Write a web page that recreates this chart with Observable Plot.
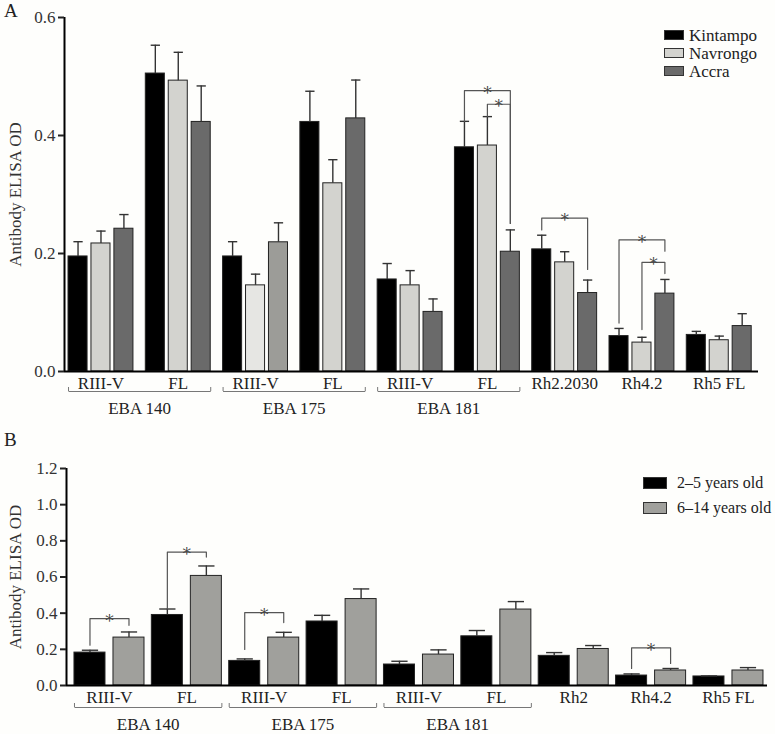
<!DOCTYPE html>
<html><head><meta charset="utf-8">
<script src="https://cdn.jsdelivr.net/npm/d3@7"></script>
<script src="https://cdn.jsdelivr.net/npm/@observablehq/plot@0.6"></script>
<style>
body{margin:0;background:#fefefc;font-family:"Liberation Serif",serif;color:#222}
#wrap{position:relative;width:775px;height:734px;overflow:hidden}
.panel{position:absolute;left:0}
.letter{position:absolute;left:4px;font-size:19px;line-height:1}
.legend{position:absolute;line-height:1;white-space:nowrap}
.legend .row{display:flex;align-items:center}
.legend .sw{display:inline-block;box-sizing:border-box;border:1px solid #333}
</style></head><body><div id="wrap"></div>
<script>
// ---------- data ----------
const groupLabelsA = ["RIII-V","FL","RIII-V","FL","RIII-V","FL","Rh2.2030","Rh4.2","Rh5 FL"];
const groupLabelsB = ["RIII-V","FL","RIII-V","FL","RIII-V","FL","Rh2","Rh4.2","Rh5 FL"];
const familyNames = ["EBA 140","EBA 175","EBA 181"];
const familyFirst = [0,2,4];
const familyLast  = [1,3,5];

const sitesA = ["Kintampo","Navrongo","Accra"];
const kintampo    = [0.195,0.505,0.195,0.423,0.156,0.380,0.207,0.060,0.062];
const kintampoErr = [0.220,0.553,0.220,0.475,0.183,0.424,0.231,0.073,0.068];
const navrongo    = [0.217,0.493,0.146,0.319,0.146,0.383,0.185,0.049,0.053];
const navrongoErr = [0.238,0.541,0.165,0.359,0.171,0.432,0.203,0.058,0.060];
const accra       = [0.242,0.423,0.219,0.429,0.101,0.203,0.133,0.132,0.077];
const accraErr    = [0.266,0.484,0.252,0.494,0.123,0.240,0.155,0.156,0.098];

const agesB = ["2\u20135 years old","6\u201314 years old"];
const age25     = [0.182,0.390,0.136,0.354,0.116,0.272,0.164,0.055,0.050];
const age25Err  = [0.195,0.423,0.147,0.388,0.134,0.304,0.182,0.064,0.053];
const age614    = [0.265,0.606,0.265,0.478,0.171,0.420,0.202,0.083,0.083];
const age614Err = [0.296,0.661,0.294,0.534,0.197,0.464,0.221,0.094,0.099];

const yTicksA = [0,0.2,0.4,0.6];
const yTicksB = [0,0.2,0.4,0.6,0.8,1.0,1.2];

// significance brackets: group index, from/to series index, bracket top, leg ends
const sigA = [
  {g:5,from:0,to:2,top:0.476,yFrom:0.424,yTo:0.251},
  {g:5,from:1,to:2,top:0.453,yFrom:0.432,yTo:0.251},
  {g:6,from:0,to:2,top:0.260,yFrom:0.240,yTo:0.173},
  {g:7,from:0,to:2,top:0.223,yFrom:0.082,yTo:0.204},
  {g:7,from:1,to:2,top:0.185,yFrom:0.071,yTo:0.166}
];
const sigB = [
  {g:0,from:0,to:1,top:0.370,yFrom:0.223,yTo:0.333},
  {g:1,from:0,to:1,top:0.738,yFrom:0.423,yTo:0.710},
  {g:2,from:0,to:1,top:0.403,yFrom:0.199,yTo:0.348},
  {g:7,from:0,to:1,top:0.208,yFrom:0.094,yTo:0.122}
];

// ---------- styles ----------
const fillsA = ["#000000","#d3d3cf","#6a6a6a"];
const fillsAOverride = {2: ["#000000","#e6e6e3","#9c9c98"]}; // EBA 175 RIII-V shades
const fillsB = ["#000000","#a0a09c"];

function panel(cfg){
  const inner = d3.scaleBand().domain(d3.range(cfg.series.length)).range(cfg.innerRange).paddingInner(cfg.innerPad);
  const bw = inner.bandwidth();
  const gStart = inner.range()[0], gEnd = inner.range()[1];
  const bars = [];
  cfg.values.forEach((vals, s) => vals.forEach((v, g) => {
    const x1 = g + inner(s);
    bars.push({g, s, value:v, err:cfg.errs[s][g], x1, x2:x1+bw, xc:x1+bw/2,
      fill:(cfg.override && cfg.override[g]) ? cfg.override[g][s] : cfg.fills[s]});
  }));
  const xc = (g,s) => g + inner(s) + bw/2;
  const sigPts = [];
  cfg.sig.forEach((d,j) => {
    const xl = xc(d.g,d.from), xr = xc(d.g,d.to);
    sigPts.push({id:j,x:xl,y:d.yFrom},{id:j,x:xl,y:d.top},{id:j,x:xr,y:d.top},{id:j,x:xr,y:d.yTo});
  });
  const fam = familyNames.map((n,i)=>({name:n, x1:familyFirst[i]+gStart, x2:familyLast[i]+gEnd}));
  const famEnds = fam.flatMap(f=>[f.x1,f.x2]);
  const yMax = d3.max(cfg.yTicks);
  return Plot.plot({
    width:775, height:cfg.height,
    marginLeft:cfg.ml, marginRight:cfg.mr, marginTop:cfg.mt, marginBottom:cfg.mb,
    style:{fontFamily:"Liberation Serif, serif", fontSize:"17px", background:"transparent", color:"#222", overflow:"visible"},
    x:{domain:[0,cfg.xMax], axis:null},
    y:{domain:[0,yMax]},
    color:{type:"identity"},
    marks:[
      Plot.rectY(bars,{x1:"x1",x2:"x2",y1:0,y2:"value",fill:"fill",stroke:"#222",strokeWidth:1}),
      Plot.ruleX(bars,{x:"xc",y1:"value",y2:"err",stroke:"#333",strokeWidth:1.4}),
      Plot.link(bars,{x1:d=>d.xc-cfg.cap,x2:d=>d.xc+cfg.cap,y1:"err",y2:"err",stroke:"#333",strokeWidth:1.4}),
      Plot.line(sigPts,{x:"x",y:"y",z:"id",stroke:"#555",strokeWidth:1.2}),
      Plot.text(cfg.sig,{x:d=>(xc(d.g,d.from)+xc(d.g,d.to))/2,y:"top",text:()=>"*",lineAnchor:"bottom",dy:8,fontSize:17,
        fill:"#444",fillOpacity:0.99,fontFamily:"DejaVu Serif"}),
      Plot.ruleY([0],{x1:0,x2:cfg.xMax,stroke:"#000",strokeWidth:2}),
      Plot.ruleX([0],{y1:0,y2:yMax,stroke:"#000",strokeWidth:2}),
      Plot.axisY(cfg.yTicks,{tickFormat:d3.format(".1f"),tickSize:6,tickPadding:3,strokeWidth:2,fontSize:17,fill:"#333",
        label:"Antibody ELISA OD",labelAnchor:"center",labelOffset:cfg.labelOffset,labelArrow:"none"}),
      Plot.text(cfg.groupLabels,{x:(d,i)=>i+(gStart+gEnd)/2,y:0,text:d=>d,dy:cfg.labelDy,fontSize:17,fill:"#222"}),
      Plot.link(fam,{x1:"x1",x2:"x2",y1:0,y2:0,dy:cfg.brDy,stroke:"#777",strokeWidth:1}),
      Plot.ruleX(famEnds,{x:d=>d,y1:0,y2:0,dy:cfg.brDy,insetTop:-4,stroke:"#777",strokeWidth:1}),
      Plot.text(fam,{x:d=>(d.x1+d.x2)/2,y:0,text:"name",dy:cfg.famDy,fontSize:17,fill:"#222"})
    ]
  });
}

const wrap = document.getElementById("wrap");

const A = panel({
  height:425, ml:64, mr:17, mt:17, mb:54, xMax:8.98,
  series:sitesA, values:[kintampo,navrongo,accra], errs:[kintampoErr,navrongoErr,accraErr],
  fills:fillsA, override:fillsAOverride, innerRange:[0.052,0.892], innerPad:0.17, cap:0.06,
  sig:sigA, yTicks:yTicksA, groupLabels:groupLabelsA, labelOffset:56, labelDy:12, brDy:20, famDy:37
});
A.classList.add("panel"); A.style.top = "0px";
wrap.appendChild(A);

const B = panel({
  height:309, ml:66, mr:8, mt:43, mb:49, xMax:9.06,
  series:agesB, values:[age25,age614], errs:[age25Err,age614Err],
  fills:fillsB, innerRange:[0.103,1.008], innerPad:0.205, cap:0.105,
  sig:sigB, yTicks:yTicksB, groupLabels:groupLabelsB, labelOffset:58, labelDy:12, brDy:22, famDy:39
});
B.classList.add("panel"); B.style.top = "425px";
wrap.appendChild(B);

// panel letters
[["A",1],["B",430]].forEach(([t,top])=>{
  const d=document.createElement("div"); d.className="letter"; d.textContent=t; d.style.top=top+"px"; wrap.appendChild(d);
});

// legends
function legend(names, fills, left, top, sw, rowH, gap, fs){
  const L=document.createElement("div"); L.className="legend"; L.style.left=left+"px"; L.style.top=top+"px";
  L.style.fontSize=fs+"px";
  names.forEach((n,i)=>{
    const r=document.createElement("div"); r.className="row"; r.style.height=rowH+"px";
    const s=document.createElement("span"); s.className="sw"; s.style.width=sw[0]+"px"; s.style.height=sw[1]+"px";
    s.style.background=fills[i]; s.style.marginRight=gap+"px"; s.style.flex="none";
    r.appendChild(s); r.appendChild(document.createTextNode(n)); L.appendChild(r);
  });
  wrap.appendChild(L);
}
legend(sitesA, fillsA, 664, 26, [20,10], 18, 5, 17);
legend(agesB, fillsB, 643, 471, [24,12], 24.5, 10, 16);
</script></body></html>
